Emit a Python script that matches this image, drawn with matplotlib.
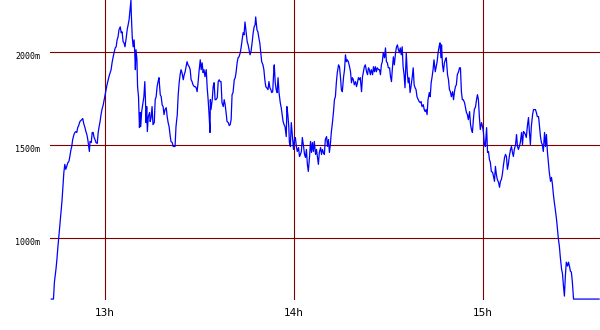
"""Altitude profile over an afternoon ride."""

import matplotlib
matplotlib.use("Agg")
import matplotlib.pyplot as plt

# %% data: minutes after 12:00 and altitude in metres
minutes = [
    42.9, 43.6, 43.9, 44.4, 44.7, 45.0, 45.3, 45.6, 46.0, 46.3, 46.6, 46.9, 47.2, 47.5,
    47.8, 48.2, 48.5, 48.8, 49.1, 49.4, 49.7, 50.1, 50.4, 50.7, 51.0, 51.3, 51.6, 52.0,
    52.3, 52.6, 52.9, 53.2, 53.6, 53.9, 54.2, 54.5, 54.8, 55.0, 55.2, 55.6, 55.9, 56.2,
    56.5, 56.8, 57.1, 57.5, 57.8, 58.1, 58.4, 58.7, 59.0, 59.4, 59.7, 60.0, 60.3, 60.6,
    61.0, 61.3, 61.6, 61.9, 62.2, 62.5, 62.9, 63.2, 63.5, 63.8, 64.1, 64.4, 64.8, 65.1,
    65.4, 65.7, 66.0, 66.3, 66.7, 67.0, 67.3, 67.6, 67.9, 68.2, 68.3, 68.6, 68.9, 69.2,
    69.4, 69.6, 69.8, 70.1, 70.3, 70.6, 70.9, 71.1, 71.3, 71.6, 72.0, 72.3, 72.6, 72.8,
    73.0, 73.2, 73.4, 73.7, 74.1, 74.3, 74.6, 74.9, 75.2, 75.6, 75.9, 76.2, 76.5, 76.8,
    77.1, 77.5, 77.8, 78.1, 78.4, 78.7, 79.0, 79.4, 79.7, 80.0, 80.3, 80.6, 80.9, 81.3,
    81.6, 81.9, 82.2, 82.5, 82.9, 83.2, 83.5, 83.8, 84.1, 84.4, 84.8, 85.1, 85.4, 85.7,
    86.0, 86.3, 86.7, 87.0, 87.3, 87.6, 87.9, 88.3, 88.6, 88.9, 89.2, 89.5, 89.8, 90.2,
    90.5, 90.8, 91.1, 91.4, 91.7, 92.1, 92.4, 92.7, 93.0, 93.3, 93.4, 93.6, 94.0, 94.3,
    94.6, 94.9, 95.2, 95.6, 95.9, 96.2, 96.5, 96.8, 97.1, 97.5, 97.8, 98.1, 98.4, 98.7,
    99.1, 99.4, 99.7, 100.0, 100.3, 100.6, 101.0, 101.3, 101.6, 101.9, 102.2, 102.5,
    102.9, 103.2, 103.5, 103.8, 104.1, 104.4, 104.8, 105.1, 105.4, 105.7, 106.0, 106.3,
    106.7, 107.0, 107.3, 107.6, 107.8, 108.2, 108.5, 108.8, 109.1, 109.4, 109.7, 110.1,
    110.4, 110.7, 111.0, 111.3, 111.7, 112.0, 112.3, 112.6, 112.9, 113.2, 113.6, 113.7,
    114.0, 114.3, 114.6, 114.9, 115.2, 115.6, 115.9, 116.2, 116.5, 116.8, 117.1, 117.5,
    117.7, 118.0, 118.3, 118.5, 118.8, 119.1, 119.5, 119.8, 120.1, 120.4, 120.7, 121.0,
    121.4, 121.7, 122.0, 122.3, 122.6, 123.0, 123.3, 123.6, 123.9, 124.2, 124.5, 124.9,
    125.2, 125.5, 125.8, 126.1, 126.4, 126.8, 127.1, 127.4, 127.7, 128.0, 128.4, 128.7,
    129.0, 129.3, 129.6, 129.9, 130.3, 130.6, 130.9, 131.2, 131.5, 131.8, 132.2, 132.5,
    132.8, 133.1, 133.4, 133.7, 134.1, 134.4, 134.7, 135.0, 135.3, 135.7, 136.0, 136.3,
    136.6, 136.9, 137.2, 137.6, 137.9, 138.2, 138.5, 138.8, 139.1, 139.5, 139.8, 140.1,
    140.4, 140.7, 141.0, 141.4, 141.7, 142.0, 142.3, 142.6, 143.0, 143.3, 143.6, 143.9,
    144.2, 144.5, 144.9, 145.2, 145.5, 145.8, 146.1, 146.4, 146.8, 147.1, 147.4, 147.7,
    148.0, 148.3, 148.7, 149.0, 149.3, 149.6, 149.9, 150.3, 150.6, 150.9, 151.2, 151.5,
    151.8, 152.2, 152.5, 152.8, 153.1, 153.4, 153.7, 154.0, 154.3, 154.6, 154.9, 155.2,
    155.6, 155.9, 156.2, 156.5, 156.8, 157.1, 157.5, 157.8, 158.1, 158.4, 158.7, 159.0,
    159.4, 159.7, 160.0, 160.3, 160.6, 161.0, 161.3, 161.6, 161.9, 162.2, 162.5, 162.9,
    163.2, 163.5, 163.8, 164.1, 164.4, 164.8, 165.1, 165.4, 165.7, 166.0, 166.3, 166.6,
    166.8, 167.1, 167.4, 167.7, 168.0, 168.3, 168.7, 169.0, 169.3, 169.6, 169.9, 170.3,
    170.6, 170.9, 171.2, 171.5, 171.8, 172.2, 172.5, 172.8, 173.1, 173.4, 173.7, 174.1,
    174.4, 174.7, 175.0, 175.3, 175.7, 176.0, 176.3, 176.6, 176.9, 177.2, 177.6, 177.9,
    178.2, 178.5, 178.8, 179.1, 179.5, 179.8, 180.1, 180.4, 180.7, 181.1, 181.4, 181.7,
    182.0, 182.3, 182.6, 183.0, 183.3, 183.6, 183.9, 184.2, 184.5, 184.9, 185.2, 185.5,
    185.8, 186.1, 186.4, 186.8, 187.1, 187.4, 187.7, 188.0, 188.3, 188.7, 189.0, 189.3,
    189.6, 189.9, 190.3, 190.6, 190.9, 191.2, 191.5, 191.8, 192.2, 192.5, 192.8, 193.1,
    193.4, 193.7, 194.1, 194.4, 194.7, 195.0, 195.3, 195.7, 196.0, 196.3, 196.6, 196.9,
    197.2, 197.6, 197.9, 198.2, 198.5, 198.8, 199.1, 199.5, 199.8, 200.1, 200.4, 200.7,
    201.0, 201.4, 201.7, 202.0, 202.3, 202.6, 202.9, 203.3, 203.6, 203.9, 204.2, 204.5,
    204.9, 205.2, 205.5, 205.8, 206.1, 206.4, 206.8, 207.1, 207.4, 207.7, 208.0, 208.3,
    208.7, 216.8,
]
altitude_m = [
    673, 673, 764, 834, 887, 951, 1005, 1064, 1139, 1198, 1278, 1353, 1396, 1369,
    1385, 1406, 1412, 1438, 1470, 1492, 1529, 1556, 1567, 1572, 1567, 1593, 1604, 1626,
    1631, 1636, 1642, 1615, 1593, 1572, 1556, 1529, 1492, 1465, 1519, 1513, 1567, 1567,
    1540, 1529, 1513, 1508, 1567, 1599, 1626, 1663, 1690, 1716, 1743, 1770, 1797, 1823,
    1850, 1872, 1888, 1904, 1941, 1968, 2000, 2021, 2027, 2064, 2080, 2118, 2134, 2102,
    2107, 2054, 2048, 2027, 2075, 2118, 2144, 2171, 2225, 2278, 2209, 2080, 2027, 2064,
    1995, 1904, 2011, 1957, 1813, 1759, 1593, 1674, 1599, 1679, 1727, 1759, 1840, 1743,
    1620, 1706, 1572, 1652, 1674, 1626, 1647, 1706, 1609, 1620, 1743, 1759, 1813, 1840,
    1861, 1770, 1759, 1716, 1706, 1663, 1690, 1700, 1652, 1620, 1599, 1556, 1519, 1513,
    1492, 1492, 1492, 1599, 1663, 1770, 1834, 1877, 1904, 1888, 1850, 1877, 1893, 1920,
    1947, 1930, 1920, 1904, 1850, 1840, 1823, 1813, 1813, 1807, 1786, 1834, 1893, 1957,
    1904, 1941, 1888, 1904, 1866, 1904, 1807, 1743, 1663, 1567, 1743, 1690, 1743, 1813,
    1834, 1743, 1743, 1754, 1840, 1850, 1840, 1840, 1727, 1706, 1743, 1716, 1674, 1626,
    1620, 1604, 1609, 1636, 1770, 1781, 1850, 1861, 1893, 1941, 1968, 1973,
    1995, 2027, 2064, 2102, 2091, 2160, 2102, 2054, 2037, 2011, 1984, 2000,
    2054, 2102, 2134, 2144, 2187, 2118, 2107, 2075, 2048, 1995, 1947, 1930,
    1904, 1850, 1813, 1807, 1797, 1840, 1807, 1797, 1781, 1786, 1920, 1930,
    1834, 1797, 1781, 1861, 1781, 1727, 1700, 1663, 1626, 1609, 1599, 1545,
    1706, 1663, 1599, 1513, 1492, 1620, 1540, 1476, 1529, 1540, 1492, 1465,
    1486, 1438, 1449, 1465, 1540, 1492, 1449, 1433, 1476, 1396, 1358, 1438,
    1519, 1460, 1513, 1465, 1519, 1449, 1476, 1438, 1396, 1460, 1486, 1449,
    1476, 1460, 1449, 1529, 1545, 1492, 1529, 1460, 1502, 1567, 1626, 1679,
    1743, 1759, 1834, 1888, 1930, 1920, 1866, 1797, 1786, 1866, 1904, 1984,
    1947, 1957, 1947, 1920, 1893, 1834, 1861, 1850, 1823, 1840, 1813, 1834,
    1861, 1850, 1861, 1786, 1866, 1893, 1920, 1930, 1893, 1877, 1914, 1904,
    1877, 1904, 1877, 1920, 1893, 1920, 1893, 1914, 1904, 1904, 1877, 1930,
    1947, 1995, 1968, 2021, 1947, 1941, 1914, 1914, 1866, 1840, 1914, 1973,
    1930, 1995, 2027, 2037, 2011, 1995, 2021, 1984, 2027, 1920, 1877, 1807,
    1995, 1893, 1834, 1861, 1781, 1813, 1866, 1914, 1823, 1807, 1797, 1759,
    1743, 1733, 1727, 1733, 1706, 1716, 1690, 1679, 1690, 1663, 1743, 1781,
    1759, 1834, 1866, 1904, 1957, 1893, 1920, 1947, 1995, 2027, 2048, 1968,
    2037, 1930, 1893, 1941, 1957, 1968, 1877, 1850, 1797, 1786, 1759, 1786,
    1743, 1786, 1813, 1823, 1877, 1893, 1914, 1914, 1786, 1743, 1743, 1727,
    1700, 1674, 1663, 1636, 1679, 1609, 1583, 1567, 1636, 1690, 1706, 1743,
    1770, 1743, 1652, 1583, 1620, 1599, 1567, 1502, 1492, 1593, 1460, 1465,
    1422, 1406, 1358, 1353, 1331, 1305, 1385, 1342, 1315, 1299, 1273, 1305,
    1315, 1342, 1385, 1433, 1449, 1438, 1369, 1396, 1438, 1476, 1492, 1460,
    1438, 1476, 1502, 1556, 1492, 1476, 1492, 1513, 1567, 1502, 1572, 1567,
    1556, 1540, 1609, 1647, 1567, 1502, 1599, 1663, 1690, 1690, 1690, 1674,
    1652, 1652, 1599, 1545, 1513, 1502, 1465, 1567, 1492, 1556, 1465, 1406,
    1353, 1305, 1326, 1289, 1235, 1192, 1155, 1101, 1048, 994, 957, 898,
    834, 807, 743, 689, 796, 871, 850, 871, 850, 823, 818, 770,
    673, 673,
]

hour_ticks = [60, 120, 180]
hour_labels = ["13h", "14h", "15h"]
alt_ticks = [1000, 1500, 2000]
alt_labels = ["1000m", "1500m", "2000m"]

# %% figure
grid_color = "#800000"
fig = plt.figure(figsize=(6.0, 3.3), dpi=100)
ax = fig.add_axes([50 / 600, 30 / 330, 550 / 600, 300 / 330])

for v in hour_ticks:
    ax.axvline(v, color=grid_color, lw=0.8, zorder=1)
for h in alt_ticks:
    ax.axhline(h, color=grid_color, lw=0.8, zorder=1)

ax.plot(minutes, altitude_m, color="#0000ff", lw=0.9, zorder=2)

ax.set_xlim(42.5, 217.1)
ax.set_ylim(668, 2278)
for s in ax.spines.values():
    s.set_visible(False)

ax.set_xticks(hour_ticks)
ax.set_xticklabels(hour_labels, fontsize=7.5)
ax.set_yticks(alt_ticks)
ax.set_yticklabels(alt_labels, fontsize=6, family="DejaVu Sans Mono")
ax.tick_params(axis="both", length=0)
ax.tick_params(axis="x", pad=6)
ax.tick_params(axis="y", pad=7)
for lab in ax.get_yticklabels():
    lab.set_va("top")

fig.savefig("out.png", dpi=100, facecolor="white")
